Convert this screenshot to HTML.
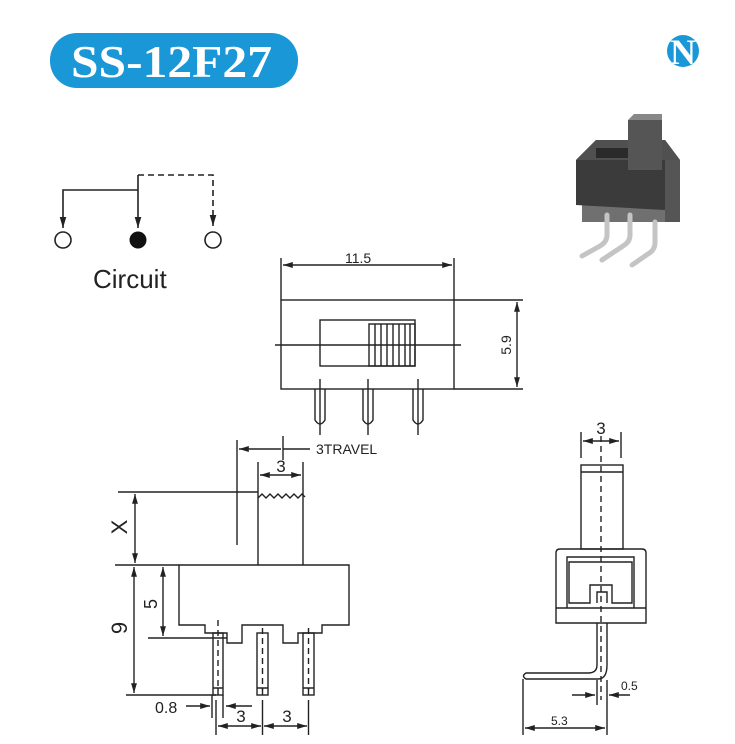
<!DOCTYPE html>
<html><head><meta charset="utf-8"><style>
html,body{margin:0;padding:0;background:#fff;}
svg{display:block;}
text{font-family:"Liberation Sans",sans-serif;fill:#222;}
</style></head><body>
<svg width="735" height="744" viewBox="0 0 735 744" xmlns="http://www.w3.org/2000/svg">
<defs>
<marker id="a" viewBox="0 0 10 10" refX="10" refY="5" markerWidth="7" markerHeight="7" orient="auto-start-reverse"><path d="M0,2 L10,5 L0,8 z" fill="#222"/></marker>
</defs>
<!-- header -->
<rect x="50" y="33" width="248" height="55" rx="27" fill="#1a97d6"/>
<text x="71" y="77" textLength="201" lengthAdjust="spacingAndGlyphs" style="font-family:'Liberation Serif',serif;font-weight:bold;font-size:46px;fill:#fff">SS-12F27</text>
<circle cx="683" cy="51" r="16" fill="#1a97d6"/>
<text x="683" y="64" text-anchor="middle" style="font-family:'Liberation Serif',serif;font-weight:bold;font-size:36px;fill:#fff">N</text>

<g stroke="#222" stroke-width="1.6" fill="none">
<!-- circuit -->
<path d="M138,190 H63 V228" marker-end="url(#a)"/>
<path d="M138,175 V228" marker-end="url(#a)"/>
<path d="M138,175 H213 V226" stroke-dasharray="6,4" marker-end="url(#a)"/>
<circle cx="63" cy="240" r="8"/>
<circle cx="213" cy="240" r="8"/>
</g>
<circle cx="138" cy="240" r="8.5" fill="#111"/>
<text x="93" y="288" style="font-size:26px">Circuit</text>

<!-- photo -->
<g>
<rect x="582" y="200" width="90" height="22" fill="#707070"/>
<g stroke="#c4c4c4" stroke-width="5" fill="none" stroke-linecap="round">
<path d="M607,215 V235 Q607,242 600,246 L582,256"/>
<path d="M630,215 V235 Q630,242 623,246 L602,260"/>
<path d="M655,222 V243 Q655,250 648,254 L632,265"/>
</g>
<polygon points="576,160 596,140 665,140 680,160 680,222 665,222 665,210 576,205" fill="#3b3b3b"/>
<polygon points="576,160 596,140 665,140 680,160" fill="#505050"/>
<rect x="596" y="148" width="32" height="10" fill="#2a2a2a"/>
<rect x="665" y="160" width="15" height="62" fill="#555"/>
<rect x="628" y="120" width="34" height="50" fill="#555"/>
<polygon points="628,120 634,114 662,114 662,120" fill="#888"/>
</g>

<g stroke="#222" stroke-width="1.4" fill="none">
<!-- top view -->
<line x1="281" y1="258" x2="281" y2="300"/>
<line x1="454" y1="258" x2="454" y2="300"/>
<line x1="283" y1="265" x2="452" y2="265" marker-start="url(#a)" marker-end="url(#a)"/>
<rect x="281" y="300" width="173" height="89"/>
<line x1="454" y1="300" x2="523" y2="300"/>
<line x1="454" y1="389" x2="523" y2="389"/>
<line x1="517" y1="302" x2="517" y2="387" marker-start="url(#a)" marker-end="url(#a)"/>
<rect x="320" y="320" width="95" height="46"/>
<rect x="369" y="324" width="46" height="42"/>
<path d="M375,324V366M381,324V366M387,324V366M393,324V366M399,324V366M405,324V366M410,324V366"/>
<line x1="275" y1="345" x2="461" y2="345"/>
<path d="M315,389 V420 Q320,428 325,420 V389"/>
<path d="M363,389 V420 Q368,428 373,420 V389"/>
<path d="M413,389 V420 Q418,428 423,420 V389"/>
<path d="M320,379V435M368,379V435M418,379V435"/>

<!-- side view -->
<line x1="237" y1="440" x2="237" y2="545"/>
<line x1="283" y1="436" x2="283" y2="460"/>
<line x1="239" y1="449" x2="281" y2="449" marker-start="url(#a)"/>
<line x1="283" y1="449" x2="310" y2="449"/>
<line x1="258" y1="462" x2="258" y2="565"/>
<line x1="303" y1="462" x2="303" y2="565"/>
<line x1="260" y1="475" x2="301" y2="475" marker-start="url(#a)" marker-end="url(#a)"/>
<line x1="118" y1="492" x2="258" y2="492"/>
<path d="M258,498 l4,-4 4,4 4,-4 4,4 4,-4 4,4 4,-4 4,4 4,-4 4,4 4,-4 3,3"/>
<line x1="135" y1="494" x2="135" y2="563" marker-start="url(#a)" marker-end="url(#a)"/>
<line x1="115" y1="565" x2="179" y2="565"/>
<path d="M179,565 H349 V625 H322 V633 H298 V643 H283 V625 H242 V643 H227 V633 H205 V625 H179 Z"/>
<line x1="148" y1="638" x2="227" y2="638"/>
<line x1="163" y1="567" x2="163" y2="636" marker-start="url(#a)" marker-end="url(#a)"/>
<line x1="134" y1="567" x2="134" y2="693" marker-start="url(#a)" marker-end="url(#a)"/>
<line x1="126" y1="695" x2="216" y2="695"/>
<rect x="213" y="633" width="10" height="62"/>
<rect x="257" y="633" width="11" height="62"/>
<rect x="303" y="633" width="11" height="62"/>
<path d="M213,688H223M257,688H268M303,688H314M218,688V695M262.5,688V695M308.5,688V695"/>
<path d="M218,620V690M262.5,628V690M308.5,628V690" stroke-dasharray="6,4"/>
<line x1="212" y1="695" x2="212" y2="718"/>
<line x1="223" y1="695" x2="223" y2="718"/>
<line x1="186" y1="706" x2="210" y2="706" marker-end="url(#a)"/>
<line x1="252" y1="706" x2="226" y2="706" marker-end="url(#a)"/>
<line x1="216" y1="700" x2="216" y2="735"/>
<line x1="262.5" y1="700" x2="262.5" y2="735"/>
<line x1="308.5" y1="700" x2="308.5" y2="735"/>
<line x1="218" y1="726" x2="261" y2="726" marker-start="url(#a)" marker-end="url(#a)"/>
<line x1="264" y1="726" x2="307" y2="726" marker-start="url(#a)" marker-end="url(#a)"/>

<!-- right view -->
<line x1="581" y1="432" x2="581" y2="458"/>
<line x1="621" y1="432" x2="621" y2="458"/>
<line x1="583" y1="441" x2="619" y2="441" marker-start="url(#a)" marker-end="url(#a)"/>
<rect x="581" y="465" width="42" height="84"/>
<line x1="581" y1="472" x2="623" y2="472"/>
<path d="M556,553 Q556,549 560,549 H642 Q646,549 646,553 V623 H556 Z"/>
<line x1="556" y1="608" x2="646" y2="608"/>
<path d="M567,608 V557 H634 V608"/>
<path d="M569,603 V562 H632 V603 H612 V585 H590 V603 Z"/>
<path d="M597,603 V592 H607 V603"/>
<path d="M597,623 V665 Q597,673 588,673 H526 Q521,676 526,679 H598 Q607,679 607,665 V623"/>
<line x1="601" y1="436" x2="601" y2="700" stroke-dasharray="6,4"/>
<line x1="597" y1="680" x2="597" y2="705"/>
<line x1="523" y1="679" x2="523" y2="735"/>
<line x1="607" y1="680" x2="607" y2="735"/>
<line x1="572" y1="695" x2="595" y2="695" marker-end="url(#a)"/>
<line x1="630" y1="695" x2="609" y2="695" marker-end="url(#a)"/>
<line x1="525" y1="728" x2="605" y2="728" marker-start="url(#a)" marker-end="url(#a)"/>
</g>

<text x="345" y="263" style="font-size:14px">11.5</text>
<text transform="translate(511,345) rotate(-90)" text-anchor="middle" style="font-size:14px">5.9</text>
<text x="316" y="454" style="font-size:14px">3TRAVEL</text>
<text x="281" y="472" text-anchor="middle" style="font-size:17px">3</text>
<text transform="translate(127,527) rotate(-90)" text-anchor="middle" style="font-size:22px">X</text>
<text transform="translate(127,628) rotate(-90)" text-anchor="middle" style="font-size:22px">9</text>
<text transform="translate(157,604) rotate(-90)" text-anchor="middle" style="font-size:18px">5</text>
<text x="155" y="713" style="font-size:16px">0.8</text>
<text x="241" y="722" text-anchor="middle" style="font-size:17px">3</text>
<text x="287" y="722" text-anchor="middle" style="font-size:17px">3</text>
<text x="601" y="434" text-anchor="middle" style="font-size:17px">3</text>
<text x="621" y="690" style="font-size:12px">0.5</text>
<text x="551" y="725" style="font-size:12px">5.3</text>
</svg>
</body></html>
